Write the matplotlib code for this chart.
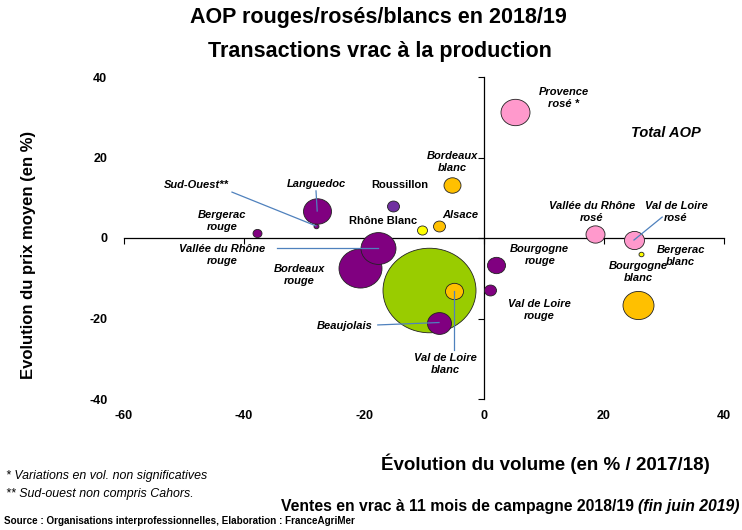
import matplotlib
matplotlib.use("Agg")
import matplotlib.pyplot as plt
from matplotlib.path import Path
from matplotlib.transforms import Affine2D

plt.rcParams['font.family'] = ['Liberation Sans', 'DejaVu Sans']
plt.rcParams['axes.unicode_minus'] = False
NARROW = ['Liberation Sans Narrow', 'Liberation Sans', 'DejaVu Sans']

# data: volume change, price change, bubble size, colour group
noms = ["Total AOP", "Provence rosé *", "Bordeaux blanc", "Roussillon", "Alsace",
        "Rhône Blanc", "Languedoc", "Sud-Ouest**", "Bergerac rouge",
        "Bordeaux rouge", "Vallée du Rhône rouge", "Val de Loire blanc", "Beaujolais",
        "Bourgogne rouge", "Val de Loire rouge", "Vallée du Rhône rosé",
        "Val de Loire rosé", "Bergerac blanc", "Bourgogne blanc"]
volume = [-9.2, 5.2, -5.3, -15.2, -7.5, -10.3, -27.8, -28.0, -37.8,
          -20.7, -17.7, -5.0, -7.5, 2.0, 1.0, 18.5, 25.0, 26.2, 25.7]
prix = [-12.8, 31.3, 13.2, 7.9, 3.0, 2.0, 6.7, 3.0, 1.2,
        -7.4, -2.5, -13.1, -21.0, -6.7, -12.9, 1.0, -0.5, -4.0, -16.6]
taille = [46.5, 14.5, 8.5, 6, 6, 5, 14, 2.5, 4.5,
          21.5, 17.5, 9, 12, 9, 6, 9.5, 10, 2.5, 15.5]
groupe = ["total", "rose", "orange", "violet", "orange", "jaune", "rouge", "rouge", "rouge",
          "rouge", "rouge", "orange", "rouge", "rouge", "rouge", "rose", "rose", "jaune", "orange"]

xticks = [-60, -40, -20, 0, 20, 40]
yticks = [-40, -20, 0, 20, 40]

couleurs = {"total": "#99CC00", "rose": "#FF99CC", "orange": "#FFC000",
            "violet": "#7030A0", "jaune": "#FFFF00", "rouge": "#800080"}

# label placement (data coords), style, connector start
etiquettes = {
    "Total AOP": ((30.3, 26.1), "Total AOP", 'italic', 10.5, None),
    "Provence rosé *": ((13.3, 34.8), "Provence\nrosé *", 'italic', 8, None),
    "Bordeaux blanc": ((-5.2, 18.9), "Bordeaux\nblanc", 'italic', 8, None),
    "Roussillon": ((-14.0, 13.2), "Roussillon", 'normal', 8, None),
    "Alsace": ((-4.0, 5.7), "Alsace", 'italic', 8, None),
    "Rhône Blanc": ((-16.8, 4.2), "Rhône Blanc", 'normal', 8, None),
    "Languedoc": ((-28.0, 13.4), "Languedoc", 'italic', 8, (-28.0, 11.7)),
    "Sud-Ouest**": ((-48.0, 13.2), "Sud-Ouest**", 'italic', 8, (-42.0, 11.4)),
    "Bergerac rouge": ((-43.7, 4.2), "Bergerac\nrouge", 'italic', 8, None),
    "Vallée du Rhône rouge": ((-43.7, -4.2), "Vallée du Rhône\nrouge", 'italic', 8, (-34.5, -2.5)),
    "Bordeaux rouge": ((-30.8, -9.2), "Bordeaux\nrouge", 'italic', 8, None),
    "Beaujolais": ((-23.2, -21.9), "Beaujolais", 'italic', 8, (-17.7, -21.6)),
    "Val de Loire blanc": ((-6.5, -31.3), "Val de Loire\nblanc", 'italic', 8, (-5.0, -27.8)),
    "Bourgogne rouge": ((9.3, -4.2), "Bourgogne\nrouge", 'italic', 8, None),
    "Val de Loire rouge": ((9.2, -17.9), "Val de Loire\nrouge", 'italic', 8, None),
    "Vallée du Rhône rosé": ((18.0, 6.5), "Vallée du Rhône\nrosé", 'italic', 8, None),
    "Val de Loire rosé": ((32.0, 6.5), "Val de Loire\nrosé", 'italic', 8, (29.7, 5.2)),
    "Bergerac blanc": ((32.8, -4.5), "Bergerac\nblanc", 'italic', 8, None),
    "Bourgogne blanc": ((25.7, -8.4), "Bourgogne\nblanc", 'italic', 8, None),
}

# the source image is slightly stretched horizontally: ellipse marker
circle = Path.unit_circle()
ellipse = circle.transformed(Affine2D().scale(1.0, 1 / 1.1))

fig = plt.figure(figsize=(7.42, 5.30), dpi=100)
ax = fig.add_axes([124 / 742, 131 / 530, 600 / 742, 322 / 530])
ax.set_xlim(-60, 40)
ax.set_ylim(-40, 40)

for n, x, y, r, g in zip(noms, volume, prix, taille, groupe):
    d = 2 * r * 0.72
    ax.scatter([x], [y], s=d ** 2, marker=ellipse, color=couleurs[g],
               edgecolor='#222222', linewidth=0.6, zorder=3)

for n, x, y in zip(noms, volume, prix):
    pos, txt, style, fs, lien = etiquettes[n]
    ax.text(pos[0], pos[1], txt, ha='center', va='center', fontsize=fs,
            fontweight='bold', fontstyle=style, linespacing=1.2, zorder=5)
    if lien is not None:
        ax.plot([lien[0], x], [lien[1], y], color='#4F81BD', lw=0.9, zorder=4)

for s in ['top', 'right']:
    ax.spines[s].set_visible(False)
ax.spines['left'].set_position('zero')
ax.spines['bottom'].set_position('zero')
ax.spines['left'].set_linewidth(0.9)
ax.spines['bottom'].set_linewidth(0.9)
ax.set_xticks(xticks)
ax.set_yticks(yticks)
ax.tick_params(axis='x', direction='out', length=4, width=0.8, labelbottom=False)
ax.tick_params(axis='y', direction='out', length=4, width=0.8, labelleft=False)

sx = ax.secondary_xaxis('bottom')
sx.set_xticks(xticks)
sx.spines['bottom'].set_visible(False)
sx.tick_params(length=0, pad=8)
for lab in sx.get_xticklabels():
    lab.set_fontweight('bold')
    lab.set_fontsize(9)
sy = ax.secondary_yaxis('left')
sy.set_yticks(yticks)
sy.spines['left'].set_visible(False)
sy.tick_params(length=0, pad=12)
for lab in sy.get_yticklabels():
    lab.set_fontweight('bold')
    lab.set_fontsize(9)

fig.text(378 / 742, 1 - 18 / 530, "AOP rouges/rosés/blancs en 2018/19", ha='center', va='center',
         fontsize=15.5, fontweight='bold')
fig.text(380 / 742, 1 - 51 / 530, "Transactions vrac à la production", ha='center', va='center',
         fontsize=15.5, fontweight='bold')
fig.text(29 / 742, 1 - 255 / 530, "Evolution du prix moyen (en %)", rotation=90, ha='center',
         va='center', fontsize=12, fontweight='bold')
fig.text(545 / 742, 1 - 464 / 530, "Évolution du volume (en % / 2017/18)", ha='center',
         va='center', fontsize=13.5, fontweight='bold', family=NARROW)
fig.text(6 / 742, 1 - 476 / 530, "* Variations en vol. non significatives", ha='left',
         va='center', fontsize=8.9, fontstyle='italic', family=NARROW)
fig.text(6 / 742, 1 - 494 / 530, "** Sud-ouest non compris Cahors.", ha='left',
         va='center', fontsize=8.9, fontstyle='italic', family=NARROW)
t1 = fig.text(0.0, 1 - 507 / 530, "Ventes en vrac à 11 mois de campagne 2018/19 ", ha='left',
              va='center', fontsize=11.3, fontweight='bold', family=NARROW)
t2 = fig.text(740 / 742, 1 - 507 / 530, "(fin juin 2019)", ha='right', va='center',
              fontsize=11.3, fontweight='bold', fontstyle='italic', family=NARROW)
fig.canvas.draw()
bb = t2.get_window_extent()
w1 = t1.get_window_extent().width
t1.set_x((bb.x0 - w1) / fig.bbox.width)
fig.text(4 / 742, 1 - 521 / 530, "Source : Organisations interprofessionnelles, Elaboration : FranceAgriMer",
         ha='left', va='center', fontsize=7.1, fontweight='bold', family=NARROW)

fig.savefig("out.png", dpi=100)
